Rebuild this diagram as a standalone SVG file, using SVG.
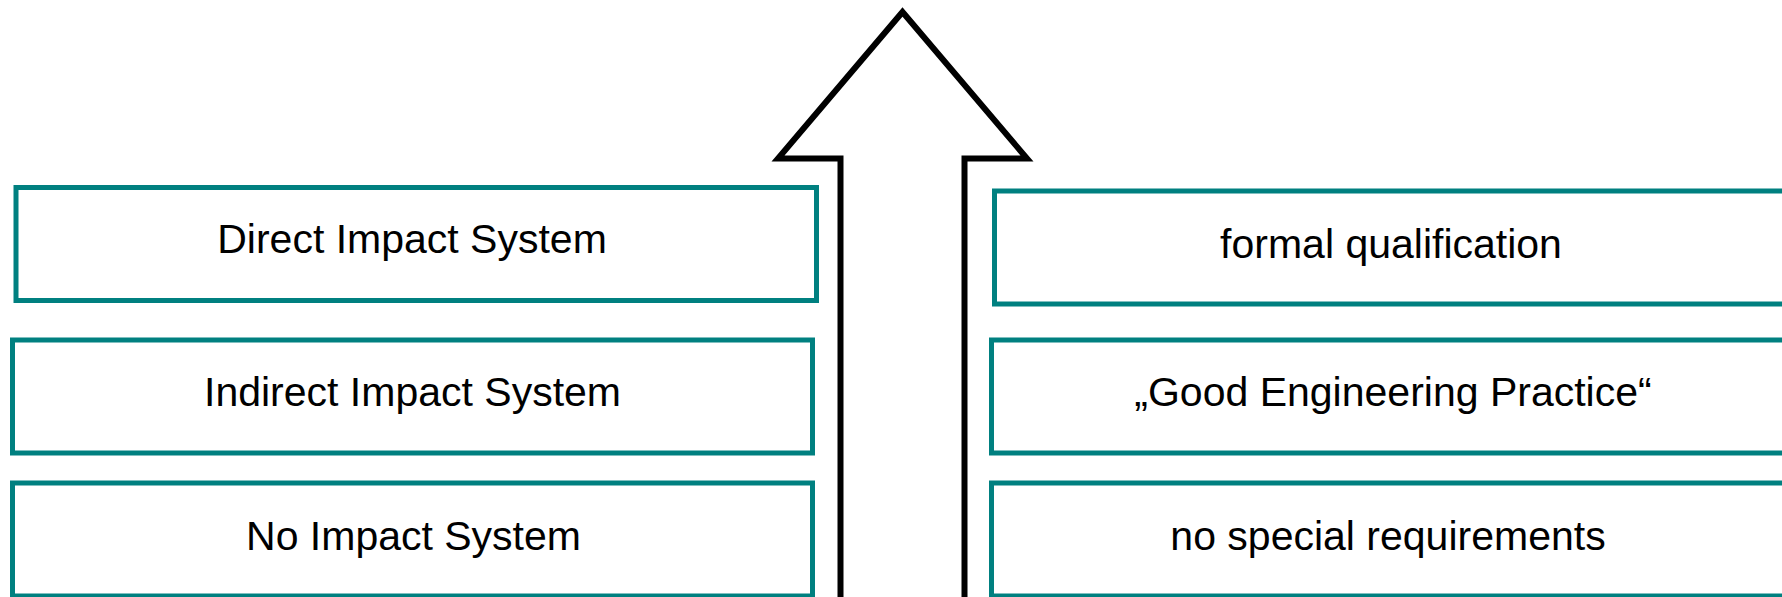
<svg xmlns="http://www.w3.org/2000/svg" width="1782" height="597" viewBox="0 0 1782 597">
<style>
.box{fill:#ffffff;stroke:#008080;stroke-width:5}
.lbl{font-family:"Liberation Sans",Arial,sans-serif;font-size:41px;fill:#000000;text-anchor:middle}
.arrow{fill:#ffffff;stroke:#000000;stroke-width:6;stroke-linejoin:miter;stroke-miterlimit:10}
</style>
<rect width="1782" height="597" fill="#ffffff"/>
<g id="connectors">
<path class="arrow" d="M840.5,605 V158.5 H778 L902.5,12 L1027,158.5 H964.5 V605"/>
</g>
<g id="direct">
<rect class="box" x="16" y="187.5" width="800.5" height="113"/>
<text class="lbl" x="412" y="253">Direct Impact System</text>
</g>
<g id="indirect">
<rect class="box" x="12.5" y="340" width="800" height="113"/>
<text class="lbl" x="412.5" y="406">Indirect Impact System</text>
</g>
<g id="noimpact">
<rect class="box" x="12.5" y="483" width="800" height="113"/>
<text class="lbl" x="413.5" y="550">No Impact System</text>
</g>
<g id="formal">
<rect class="box" x="994.5" y="191" width="800" height="113"/>
<text class="lbl" x="1391" y="258">formal qualification</text>
</g>
<g id="gep">
<rect class="box" x="991.5" y="340" width="800" height="113"/>
<text class="lbl" x="1393" y="406">„Good Engineering Practice“</text>
</g>
<g id="nospecial">
<rect class="box" x="991.5" y="483" width="800" height="113"/>
<text class="lbl" x="1388" y="550">no special requirements</text>
</g>
</svg>
